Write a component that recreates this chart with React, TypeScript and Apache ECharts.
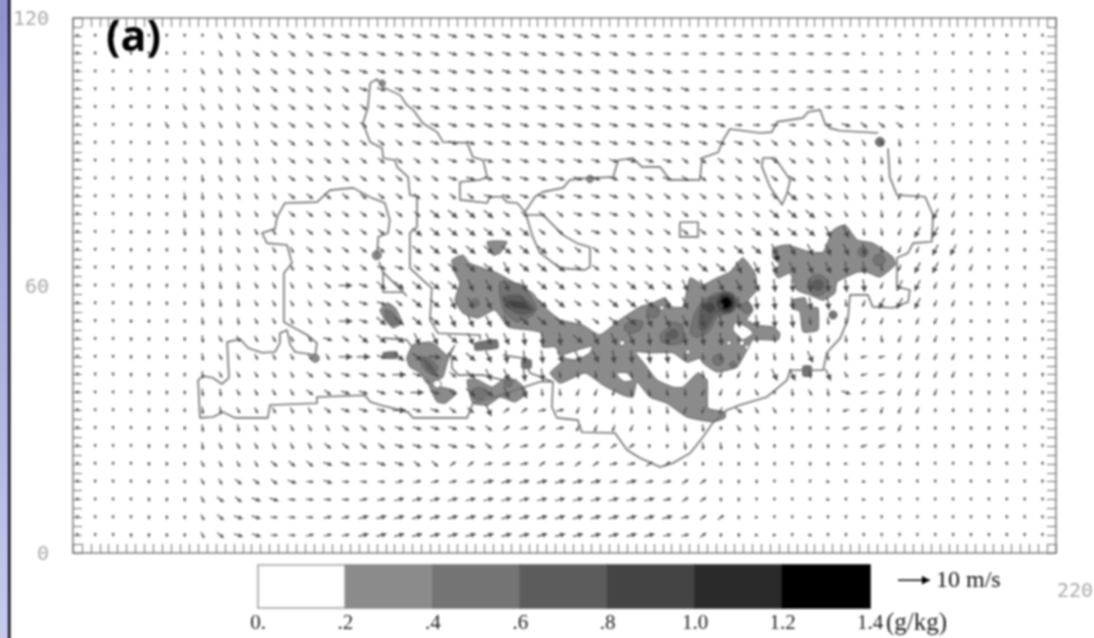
import React, { useEffect, useRef } from "react";
import * as echarts from "echarts";

// ---- axis labels ----
const yTickLabels = [0, 60, 120];
const colorBarLevels = [0, 0.2, 0.4, 0.6, 0.8, 1.0, 1.2, 1.4];
const colorBarLabels = ["0.", ".2", ".4", ".6", ".8", "1.0", "1.2", "1.4"];
const levelColors = ["#ffffff", "#8b8b8b", "#747474", "#5c5c5c", "#444444", "#2a2a2a", "#000000"];

// ---- wind: grid of 29 rows (y = 116 ... 4) x 55 columns (x = 1 ... 217), coded per cell ----
const windCodes: Record<string, [number, number]> = {
  ".": [0.1, -0.7], ",": [0, -1.2], d: [0.3, -2.3], D: [0.5, -4],
  t: [1, -1.8], T: [1.7, -3.6], r: [2, -1.6], R: [2.9, -2.4],
  q: [2.7, -0.9], Q: [3.6, -0.6], e: [2.2, -0.1], E: [4.2, 0],
  f: [2.4, 0.5], F: [3.1, 0.8], g: [1.8, 1.3], n: [0.9, -0.1],
  l: [-0.8, -2], L: [-1.7, -3.3], h: [-2, -0.5],
};
const windRows = [
  "........tt rrrrqqqqqq qqqqqqqqqq eeeeeeeeee eeennn.... .....",
  "........tt rrrrqqqqqq qqqqqqqqqq qqeeeeeeee eeeennn... .....",
  ".......ttt rrrrrqqqqq qqqqqqqqqq qqqqeeeeee eeeeennn.. .....",
  ".....,,ttt rrrrrrqqqq qqqqqqqqqq qqqqqeeeee eeeeennn.. .....",
  ".....,tttt rrrrrrrqqq qqqqqqqqqq qqqqqqeeee eeeeeeqn.. .....",
  "....,ttttt trrrrrrrqq qqqqqqqqqq qqqqqqqeee eeeqrrr,.. .....",
  "....,,,ttt trrrrrrrrq qqqqqqqqqq qqqqqqqqrr rrrrttd... .....",
  "....,,ttdt ttrrrrrrrr rqqqqqqqqq qqqqrrrrrr rrttddd,,. .....",
  "....,,,dtt ttrrrrrrrr rqqqqqqqqq qqqqrrrrrr rrrttdll,, ,,...",
  "....,,ddtt ttrrrrrrrr rrrqqqqqqq qrrrrrrrrr Rrrttdllll ,,,..",
  "...,,,dddt ttrrrrrrrr RRRRrrrrqq qrrrrrrrrR RRrttdllLl ,,,,.",
  "...,,,dddt tttrrrrrrR RRRRRRrrrq rrrrrrrrRR RRTTddlLLl ,,,,.",
  "...,,,,ddt tttrrrrrrR RRRRRRRrrr rrrrrrrRRT TTTTDdllLL l,,,.",
  "...,,,,ddt tttrrrrqqr RRRRTRRRrr rrrrrRRTTT TTTDDdlLLl l,,,,",
  "...,,,,ddd ttttrEqRRR RRTTTTRRrr rRRRTTTTTD DDDDDlLLll ,,,,,",
  "...,,,,ddd ttttrrqqrR RTTTTTRRrr RRRTTDDDDD DDDdlLLLll ,,,,,",
  "...,,,,ddd tttttEqRRR RTTTTRRRrr RRTTTDDDDD Ddddll,lll ,,,,,",
  "...,,,,dtt ttttqrRRRT TRTTTDDDRT TTDDDDDddd dddd,dlll, ,,,,,",
  "...,,,,dtt tttttEEqRR QRRTDDDTTT DDDDdddddd dTddhhllll ,,,,,",
  "...,,,,dtt tttrrqqqEq qrRTTDDddd ddddddlllT TdTthhllll ,,,,,",
  "....,,,ddt tttrrqqqqE qrRRTTddll lddddlllt, dtdqhhlll, ,,,,,",
  "....,,,ddt ttttrqqqEq qrrTggffll ldddlllrtt ,,,hhlll,, ,,,,.",
  "....,,,ddd tttttrrrqq qqqrgfgfll ll,ddd,tt, ,,nhhhl,,, ,,,..",
  "....,,,dtt ttttrrrrqq qqqrgfgfgg gg,,ddd,t, ,,,nhh,,,, ,,,..",
  "....,,,ttt trrrqqeqqr rggfffgfgg ffgg,,,,,, .,,nn.,,.. .....",
  "....,,,ttr rrqeqeeeff fffFFFFFFF fFffgg,,,. ..n.n..... .....",
  "....,,,trr qqeeeeffFF FFFFFFFFFF FFFfgg,,.. ..n.n..... .....",
  "....,,,trq qeeeffFFFF FFFFFFFFFF FFFFfgg,n. .n..n..... .....",
  "...,,,,trq qeefffFFFF FFFFFFFFFF FFFffg,,nn .n........ .....",
];
const windKey = [188.2, -6.1, 10, 0];

// ---- terrain outline, (x, y) pairs in plot units ----
const outlineWest = [28.4,30.3,28.0,38.8,29.1,39.7,31.3,39.3,33.3,37.9,34.9,39.3,34.5,47.3,37.4,48.0,39.2,46.0,42.3,44.9,45.2,45.1,46.3,47.1,46.3,49.3,47.9,50.0,48.6,46.7,49.7,45.1,54.2,44.4,54.6,47.1,52.4,48.9,49.5,50.5,47.2,51.8,47.2,62.8,49.0,65.0,47.9,69.1,43.4,69.5,42.3,71.8,45.2,72.7,45.7,75.4,47.4,78.5,54.6,78.7,57.5,81.4,62.7,81.9,66.9,79.6,69.8,78.5,70.9,74.7,70.5,71.8,68.3,70.9,68.0,66.4];
const outlineNorth = [91.1,47.8,91.1,48.9,81.7,49.3,79.9,52.3,80.3,59.4,78.3,61.2,75.4,63.9,75.4,71.8,77.0,73.1,77.0,79.9,75.4,80.3,75.0,84.3,72.5,86.6,72.1,88.1,69.4,88.6,69.2,90.8,66.5,92.2,64.9,96.4,66.0,100.0,66.5,105.4,68.0,106.3,69.4,104.5,73.2,102.7,74.7,100.5,76.1,99.4,78.3,96.4,81.5,94.4,82.8,92.2,88.2,92.0,89.5,88.8,91.8,88.1,92.7,84.3,91.1,83.7,86.6,83.2,86.6,79.2,92.7,78.5,93.3,79.9,96.0,79.9,97.1,78.7,99.4,78.5,101.2,76.5,103.4,79.9,105.2,81.0,109.7,81.9,111.2,83.7,115.0,84.1,120.9,84.3,122.0,88.1,125.3,88.6,127.3,86.6,131.4,86.6,133.6,83.7,140.3,83.7,140.8,88.6,144.4,89.9,145.5,92.6,147.0,95.1,153.8,94.2,156.4,94.4,157.6,96.7,163.4,97.6,164.5,98.9,167.2,99.4,168.3,96.4,169.4,95.3,171.7,94.7,180.2,94.2];
const outlineSouth = [182.4,90.8,182.8,84.3,184.4,80.3,190.7,79.9,192.5,75.8,192.2,69.8,188.0,69.5,186.9,67.3,184.4,66.2,184.4,59.7,187.3,59.0,186.9,56.3,183.5,55.0,179.0,55.2,177.9,57.9,173.9,57.9,173.4,52.3,171.7,48.2,168.7,44.9,167.9,41.0,160.5,41.0,159.8,38.8,155.3,35.0,149.3,33.2,146.4,32.1,143.2,29.2,141.0,26.0,138.1,22.4,134.3,20.2,131.4,19.3,126.9,21.3,124.0,23.1,121.3,26.9,113.9,27.1,113.0,29.8,108.3,30.3,107.2,32.7,107.4,38.4,104.5,38.4,95.6,35.4,89.5,33.6,88.2,30.3,76.1,30.3,75.0,31.6,68.7,33.2,66.5,33.9,65.3,35.4,54.6,35.0,54.6,33.6,44.1,33.2,43.6,30.3,36.3,30.3,33.6,31.6,31.3,30.5,28.4,30.3];
const outlineIsland = [101.6,75.8,105.2,75.8,109.7,71.3,112.8,69.5,115.7,68.6,115.7,64.2,114.6,63.5,109.0,63.9,104.5,67.3,102.9,70.9,101.2,76.5];
const outlineLake = [154.4,88.6,157.1,88.6,160.5,83.7,159.8,80.7,158.7,78.1,156.0,82.1,154.2,86.6,154.4,88.6];
const outlineSquare = [135.8,74.2,139.9,74.2,139.9,70.9,135.8,70.9,135.8,74.2];
const outlineInnerA = [68.5,65.3,69.4,63.0,69.4,58.5,73.9,58.5,74.7,57.6];
const outlineInnerB = [69.4,63.0,73.9,58.5];
const outlineInnerC = [69.4,48.2,74.7,47.8,75.9,46.2];
const outlineInnerD = [84.8,44.0,84.8,41.5,86.2,39.9,91.8,39.9,96.2,38.8,99.4,38.8];
const outlineInnerE = [96.2,44.4,100.7,43.7,102.3,40.4,107.4,38.4];
const outlines = [outlineWest, outlineNorth, outlineSouth, outlineIsland, outlineLake, outlineSquare, outlineInnerA, outlineInnerB, outlineInnerC, outlineInnerD, outlineInnerE];

// ---- cloud water contours: first number = colour band index, then (x, y) pairs ----
const bandMain = [1,84.8,65.7,87.3,66.8,88.8,65.0,94.9,62.8,98.5,60.8,102.9,58.3,104.5,56.1,109.0,52.3,114.1,51.1,117.9,48.9,122.4,52.3,126.9,55.2,129.8,56.1,132.5,57.2,134.1,55.2,136.5,55.2,138.1,61.7,139.9,60.8,141.0,60.1,144.1,61.7,147.0,63.0,149.9,66.2,152.6,62.8,153.1,59.0,151.1,56.7,152.2,54.5,150.8,52.3,153.1,51.1,156.7,50.7,158.2,49.3,157.8,47.8,152.2,47.8,150.8,45.5,148.6,41.7,144.1,40.6,141.0,42.6,140.3,43.7,137.4,42.8,134.3,44.9,129.1,44.9,125.8,45.1,127.6,42.8,130.7,38.8,134.3,37.2,136.5,37.2,139.9,40.4,141.9,38.8,142.1,32.5,145.9,31.6,145.9,30.3,143.2,29.4,137.4,30.5,132.9,33.6,129.1,35.0,126.2,38.4,125.3,35.0,123.1,35.4,118.6,37.7,114.6,40.4,109.0,38.1,106.8,40.4,109.7,43.3,107.9,46.2,105.0,46.2,105.0,49.3,102.3,50.0,97.4,50.7,94.4,54.5,90.6,52.7,87.3,53.8,85.5,56.7,86.6,60.6,85.5,62.8];
const bandHoleA = [0,109.7,44.4,112.8,45.5,116.2,46.4,115.7,44.9,112.8,43.3,110.1,43.7];
const bandHoleB = [0,121.7,40.4,124.0,40.4,125.3,38.8,123.5,38.4,122.0,39.5];
const bandHoleC = [0,148.2,51.8,150.8,50.7,152.2,49.3,149.9,47.8,147.7,50.0];
const bandEast = [1,156.7,68.4,159.8,69.1,164.9,67.5,167.9,67.5,170.1,72.4,172.8,73.6,175.5,70.2,179.0,69.5,183.5,66.4,184.0,64.6,180.6,61.9,177.7,63.0,175.5,63.0,171.0,60.8,170.5,58.3,167.9,56.7,164.9,57.9,162.0,59.0,160.5,62.8,157.8,61.7,156.7,63.5,158.2,64.6,156.7,66.2];
const bandEastLow = [1,160.9,56.7,163.8,57.2,164.5,55.0,166.7,55.0,166.7,50.0,163.4,49.6,162.7,54.1,160.9,55.0];
const bandSmallD = [2,163.4,41.9,165.2,41.9,165.2,39.7,163.4,39.7];
const bandCoreA = [2,139.2,53.8,141.0,56.7,144.1,58.3,147.5,58.3,148.6,56.1,146.4,53.8,144.1,52.9,143.0,50.7,141.9,49.3,139.7,48.4,138.1,49.3];
const bandCoreB = [3,140.3,54.5,142.6,57.2,146.4,57.9,148.2,56.1,145.9,54.1,143.7,53.4,142.1,50.7,141.0,49.6,140.1,50.7];
const bandP1 = [2,123.5,51.1,125.3,52.3,127.6,51.8,126.9,50.0,124.7,49.3,123.5,50.0];
const bandP2 = [2,131.4,48.9,133.2,50.7,134.3,51.8,136.3,51.1,136.5,47.3,134.3,46.7,131.8,47.3];
const bandW1 = [2,95.6,60.8,100.7,60.1,103.8,55.0,102.9,53.4,99.4,51.8,96.7,53.8,95.6,57.4];
const bandW2 = [3,96.2,57.4,100.0,57.9,103.4,54.5,100.7,53.4,98.5,54.1,96.7,55.6];
const bandW3 = [4,97.1,56.7,100.7,56.3,102.7,54.5,98.5,55.0];
const bandF = [2,90.0,47.1,94.9,47.8,95.1,46.0,90.0,45.5];
const bandG = [1,92.7,69.8,97.1,69.8,95.6,67.3,94.0,66.8];
const bandH = [1,68.7,54.5,70.3,56.1,72.1,55.0,73.6,51.6,71.6,50.5,69.8,52.3];
const bandH1 = [2,69.8,54.5,71.4,54.1,72.7,51.8,71.4,51.1,70.3,52.3];
const bandI = [2,69.4,44.9,72.5,45.1,72.5,43.7,69.6,43.7];
const bandJ = [1,74.7,43.7,76.1,46.7,79.9,47.3,81.7,46.2,83.7,44.4,85.5,46.7,84.4,44.4,83.7,42.6,82.8,39.5,81.5,38.8,79.2,38.1,77.7,40.4,75.4,41.7];
const bandK = [1,79.2,38.8,80.6,37.7,85.0,36.6,85.9,35.9,83.3,33.6,81.5,33.9,80.3,36.1];
const bandJ1 = [2,77.7,44.0,79.9,43.7,81.7,41.5,80.6,39.9,78.3,41.5];
const bandJ2 = [3,78.3,43.7,79.9,42.6,81.0,40.6,79.5,41.0];
const bandL = [1,88.2,38.8,90.6,38.8,93.8,37.2,97.1,39.5,100.0,38.1,101.6,35.9,98.9,33.9,95.6,35.0,92.9,33.2,89.5,33.6];
const bandL1 = [2,89.3,36.6,91.1,37.2,92.9,35.9,91.5,34.3,89.5,34.8];
const bandM = [2,100.5,43.3,102.5,43.3,102.5,41.5,100.5,41.5];
const shadePolys = [bandMain, bandHoleA, bandHoleB, bandHoleC, bandEast, bandEastLow, bandSmallD, bandCoreA, bandCoreB, bandP1, bandP2, bandW1, bandW2, bandW3, bandF, bandG, bandH, bandH1, bandI, bandJ, bandK, bandJ1, bandJ2, bandL, bandL1, bandM];

// small closed contours: x, y, radius (plot units), colour band
const spots = [
  [122.9,47.1,0.6,0],[131.8,55.0,0.5,0],[137.6,45.1,0.5,0],[146.8,47.1,0.5,0],[149.7,47.1,0.6,0],[150.8,46.2,0.5,0],[81.5,37.9,0.9,0],
  [146.1,56.1,2.5,3],[146.1,56.1,2.0,4],[146.1,56.1,1.5,5],[146.1,56.1,1.0,6],[142.6,55.0,1.0,4],
  [129.8,54.1,1.4,2],[134.3,49.1,1.1,3],[144.4,43.3,1.2,2],[150.8,55.0,1.2,2],[147.7,42.2,0.7,2],
  [166.7,60.1,2.3,2],[166.7,60.1,1.3,3],[176.8,67.5,1.1,2],[180.4,65.7,1.3,2],[157.6,66.2,0.5,5],[170.1,53.4,0.9,2],
  [90.0,56.1,0.9,2],[97.4,38.1,0.9,2],
  [69.2,105.4,0.7,1],[115.7,83.9,0.8,1],[180.6,92.2,1.0,2],[68.0,66.8,1.0,1],[54.2,43.7,0.9,1],
];

function pairs(a: number[], start: number) {
  const out: number[][] = [];
  for (let i = start; i + 1 < a.length; i += 2) out.push([a[i], a[i + 1]]);
  return out;
}

const windData: number[][] = [];
windRows.forEach((row, j) => {
  row.replace(/ /g, "").split("").forEach((c, i) => {
    const w = windCodes[c] || windCodes["."];
    windData.push([1 + 4 * i, 116 - 4 * j, w[0], w[1]]);
  });
});

function arrow(api: any, d: number[], color: string, width: number) {
  const PX_PER_MS = 3.2;
  const p = api.coord([d[0], d[1]]);
  const dx = d[2] * PX_PER_MS;
  const dy = -d[3] * PX_PER_MS;
  const len = Math.hypot(dx, dy) || 1;
  const ux = dx / len, uy = dy / len;
  const a = [p[0] - dx / 2, p[1] - dy / 2];
  const b = [p[0] + dx / 2, p[1] + dy / 2];
  const h = Math.min(Math.max(3, len * 0.45), 8);
  const w = h * 0.55;
  const base = [b[0] - ux * h, b[1] - uy * h];
  return {
    type: "group",
    children: [
      { type: "polyline", shape: { points: [a, b] }, style: { stroke: color, lineWidth: width, fill: "none" } },
      {
        type: "polygon",
        shape: { points: [b, [base[0] - uy * w, base[1] + ux * w], [base[0] + uy * w, base[1] - ux * w]] },
        style: { fill: color },
      },
    ],
  };
}

// The chart is drawn 10px larger on every side than the clip so the blur does not fade at the page edge.
const BLEED = 10;

export default function App() {
  const ref = useRef<HTMLDivElement>(null);
  useEffect(() => {
    const chart = echarts.init(ref.current!, null, { renderer: "svg" });
    const tickStyle = { color: "#6e6e6e", width: 1 };
    const frameLine = { show: true, onZero: false, lineStyle: { color: "#7c7c7c", width: 1.5 } };
    const baseX = {
      type: "value", min: 0, max: 220, interval: 2, splitLine: { show: false },
      axisLine: frameLine,
      axisTick: { show: true, inside: true, length: 9, lineStyle: tickStyle },
      axisLabel: { show: false },
    };
    const baseY = {
      type: "value", min: 0, max: 120, interval: 2, splitLine: { show: false },
      axisLine: frameLine,
      axisTick: { show: true, inside: true, length: 9, lineStyle: tickStyle },
    };
    chart.setOption({
      animation: false,
      backgroundColor: "#ffffff",
      grid: [
        { left: 73 + BLEED, top: 18 + BLEED, width: 983, height: 535 },
        { left: 258 + BLEED, top: 565 + BLEED, width: 612, height: 43 },
      ],
      xAxis: [
        { ...baseX, gridIndex: 0, position: "bottom" },
        { ...baseX, gridIndex: 0, position: "top" },
        {
          type: "value", gridIndex: 1, min: 0, max: 1.4, interval: 0.2, splitLine: { show: false },
          axisLine: { show: false }, axisTick: { show: false },
          axisLabel: {
            show: true, margin: 3, color: "#1c1c1c", fontFamily: "Liberation Serif", fontSize: 21,
            showMinLabel: true, showMaxLabel: true,
            formatter: (_v: number, i: number) => colorBarLabels[i],
          },
        },
      ],
      yAxis: [
        {
          ...baseY, gridIndex: 0, position: "left",
          axisLabel: {
            show: true, margin: 24, color: "#a8a8a8", fontFamily: "DejaVu Sans Mono", fontSize: 20,
            showMinLabel: true, showMaxLabel: true, interval: 0,
            formatter: (v: number) => (yTickLabels.includes(v) ? String(v) : ""),
          },
        },
        { ...baseY, gridIndex: 0, position: "right", axisLabel: { show: false } },
        { type: "value", gridIndex: 1, min: 0, max: 1, show: false },
      ],
      series: [
        {
          type: "custom", xAxisIndex: 0, yAxisIndex: 0, silent: true, z: 2,
          data: shadePolys.map((p) => [p[1], p[2]]),
          renderItem: (params: any, api: any) => {
            const p = shadePolys[params.dataIndex];
            return {
              type: "polygon",
              shape: { points: pairs(p, 1).map((q) => api.coord(q)), smooth: 0.15 },
              style: { fill: levelColors[p[0]], stroke: "#5e5e5e", lineWidth: 1, lineJoin: "round" },
            };
          },
        },
        {
          type: "custom", xAxisIndex: 0, yAxisIndex: 0, silent: true, z: 3,
          data: spots.map((s) => [s[0], s[1]]),
          renderItem: (params: any, api: any) => {
            const s = spots[params.dataIndex];
            const c = api.coord([s[0], s[1]]);
            const sz = api.size([s[2], s[2]]);
            return {
              type: "ellipse",
              shape: { cx: c[0], cy: c[1], rx: sz[0], ry: sz[1] },
              style: { fill: levelColors[s[3]], stroke: s[3] > 3 ? levelColors[s[3]] : "#5e5e5e", lineWidth: 1 },
            };
          },
        },
        {
          type: "custom", xAxisIndex: 0, yAxisIndex: 0, silent: true, z: 4,
          data: outlines.map((o) => [o[0], o[1]]),
          renderItem: (params: any, api: any) => ({
            type: "polyline",
            shape: { points: pairs(outlines[params.dataIndex], 0).map((q) => api.coord(q)) },
            style: { fill: "none", stroke: "#707070", lineWidth: 1.6, lineJoin: "round" },
          }),
        },
        {
          type: "custom", xAxisIndex: 0, yAxisIndex: 0, silent: true, z: 5,
          data: windData,
          renderItem: (params: any, api: any) => arrow(api, windData[params.dataIndex], "#484848", 1.2),
        },
        {
          type: "custom", xAxisIndex: 0, yAxisIndex: 0, silent: true, z: 5,
          data: [windKey],
          renderItem: (_p: any, api: any) => arrow(api, windKey, "#000000", 1.5),
        },
        {
          type: "custom", xAxisIndex: 2, yAxisIndex: 2, silent: true, z: 2,
          data: levelColors.map((_c, i) => [colorBarLevels[i], 0]),
          renderItem: (params: any, api: any) => {
            const i = params.dataIndex;
            const a = api.coord([colorBarLevels[i], 1]);
            const b = api.coord([colorBarLevels[i + 1], 0]);
            return {
              type: "rect",
              shape: { x: a[0], y: a[1], width: b[0] - a[0], height: b[1] - a[1] },
              style: { fill: levelColors[i], stroke: i === 0 ? "#a0a0a0" : levelColors[i], lineWidth: 1.5 },
            };
          },
        },
      ],
      graphic: [
        {
          type: "rect", left: 0, top: 0, z: 10,
          shape: { width: 8 + BLEED, height: 638 + 2 * BLEED },
          style: {
            fill: new echarts.graphic.LinearGradient(0, 0, 0, 1, [
              { offset: 0, color: "#8e90cc" },
              { offset: 1, color: "#c8cbef" },
            ]),
          },
        },
        { type: "rect", left: 8 + BLEED, top: 0, z: 10, shape: { width: 2.5, height: 638 + 2 * BLEED }, style: { fill: "#08080e" } },
        {
          type: "text", left: 106 + BLEED, top: 13 + BLEED, z: 10,
          style: { text: "(a)", fill: "#000000", font: "bold 43px 'Open Sans'" },
        },
        {
          type: "text", left: 936 + BLEED, top: 567 + BLEED, z: 10,
          style: { text: "10 m/s", fill: "#111111", font: "24px 'Liberation Serif'" },
        },
        {
          type: "text", left: 886 + BLEED, top: 609 + BLEED, z: 10,
          style: { text: "(g/kg)", fill: "#1c1c1c", font: "25px 'Liberation Serif'" },
        },
        {
          type: "text", left: 1057 + BLEED, top: 580 + BLEED, z: 10,
          style: { text: "220", fill: "#a8a8a8", font: "20px 'DejaVu Sans Mono'" },
        },
      ],
    });
    return () => chart.dispose();
  }, []);
  return (
    <div style={{ position: "fixed", left: 0, top: 0, width: 1094, height: 638, overflow: "hidden", background: "#fff" }}>
      <div
        ref={ref}
        style={{ position: "absolute", left: -BLEED, top: -BLEED, width: 1094 + 2 * BLEED, height: 638 + 2 * BLEED, filter: "blur(0.8px)" }}
      />
    </div>
  );
}
